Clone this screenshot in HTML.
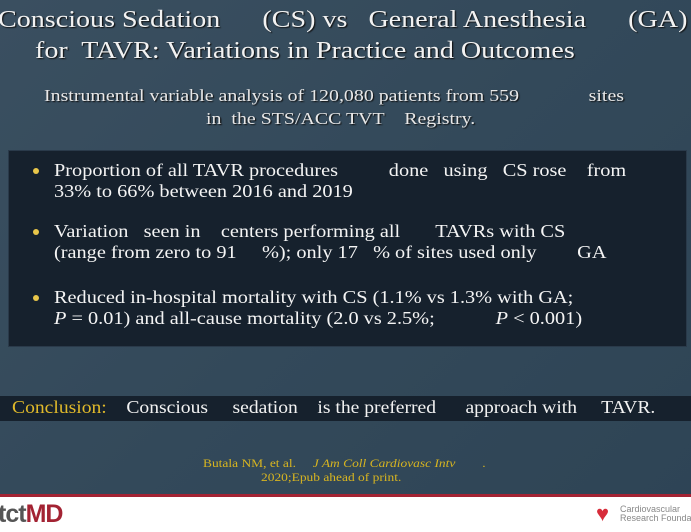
<!DOCTYPE html>
<html><head><meta charset="utf-8"><style>
body{margin:0;width:691px;height:532px;overflow:hidden;position:relative;background:linear-gradient(135deg,#3a4f60 0%,#33495a 50%,#2e4455 100%);font-family:"Liberation Serif",serif}
.a{position:absolute;white-space:pre;transform-origin:0 0}
.t{color:#f2f2f2;font-size:24px;text-shadow:1px 1px 1px #111;transform:scaleX(1.17)}
.s{color:#e8e8e8;font-size:17px;text-shadow:1px 1px 1px #111;transform:scaleX(1.17)}
.b{color:#f4f4f4;font-size:17.5px;transform:scaleX(1.16);line-height:21px}
.dot{position:absolute;width:6px;height:6px;border-radius:50%;background:#e8c64a}
</style></head><body>
<div class="a t" style="left:-2px;top:7px">Conscious Sedation      (CS) vs   General Anesthesia      (GA)</div>
<div class="a t" style="left:35px;top:38px">for  TAVR: Variations in Practice and Outcomes</div>
<div class="a s" style="left:44px;top:86px">Instrumental variable analysis of 120,080 patients from 559              sites</div>
<div class="a s" style="left:206px;top:109px">in  the STS/ACC TVT    Registry.</div>
<div class="a" style="left:8px;top:150px;width:677px;height:195px;background:#16212d;border:1px solid #2a3a4a"></div>
<div class="dot" style="left:33px;top:168px"></div>
<div class="a b" style="left:54px;top:160px">Proportion of all TAVR procedures          done   using   CS rose    from
33% to 66% between 2016 and 2019</div>
<div class="dot" style="left:33px;top:229px"></div>
<div class="a b" style="left:54px;top:221px">Variation   seen in    centers performing all       TAVRs with CS
(range from zero to 91     %); only 17   % of sites used only        GA</div>
<div class="dot" style="left:33px;top:295px"></div>
<div class="a b" style="left:54px;top:287px">Reduced in-hospital mortality with CS (1.1% vs 1.3% with GA;
<i>P</i> = 0.01) and all-cause mortality (2.0 vs 2.5%;            <i>P</i> &lt; 0.001)</div>
<div class="a" style="left:0;top:396px;width:691px;height:25px;background:#16212d"></div>
<div class="a" style="left:12px;top:397px;font-size:17.5px;color:#f2f2f2;transform:scaleX(1.12)"><span style="color:#e0b92a">Conclusion:</span>    Conscious     sedation    is the preferred      approach with     TAVR.</div>
<div class="a" style="left:203px;top:456px;font-size:12px;color:#d8b520;transform:scaleX(1.12)">Butala NM, et al.     <i>J Am Coll Cardiovasc Intv</i>        .</div>
<div class="a" style="left:261px;top:470px;font-size:12px;color:#d8b520;transform:scaleX(1.12)">2020;Epub ahead of print.</div>
<div class="a" style="left:0;top:494px;width:691px;height:3px;background:#a32333"></div>
<div class="a" style="left:0;top:497px;width:691px;height:35px;background:#fff"></div>
<div class="a" style="left:-2px;top:500px;font-family:'Liberation Sans',sans-serif;font-size:25px;font-weight:bold;letter-spacing:-1px"><span style="color:#555">tct</span><span style="color:#a32333">MD</span></div>
<div class="a" style="left:596px;top:503px;color:#d72c3a;font-size:22px;line-height:22px">♥</div>
<div class="a" style="left:620px;top:505px;font-family:'Liberation Sans',sans-serif;font-size:9px;color:#888;line-height:9px">Cardiovascular
Research Foundation</div>
</body></html>
